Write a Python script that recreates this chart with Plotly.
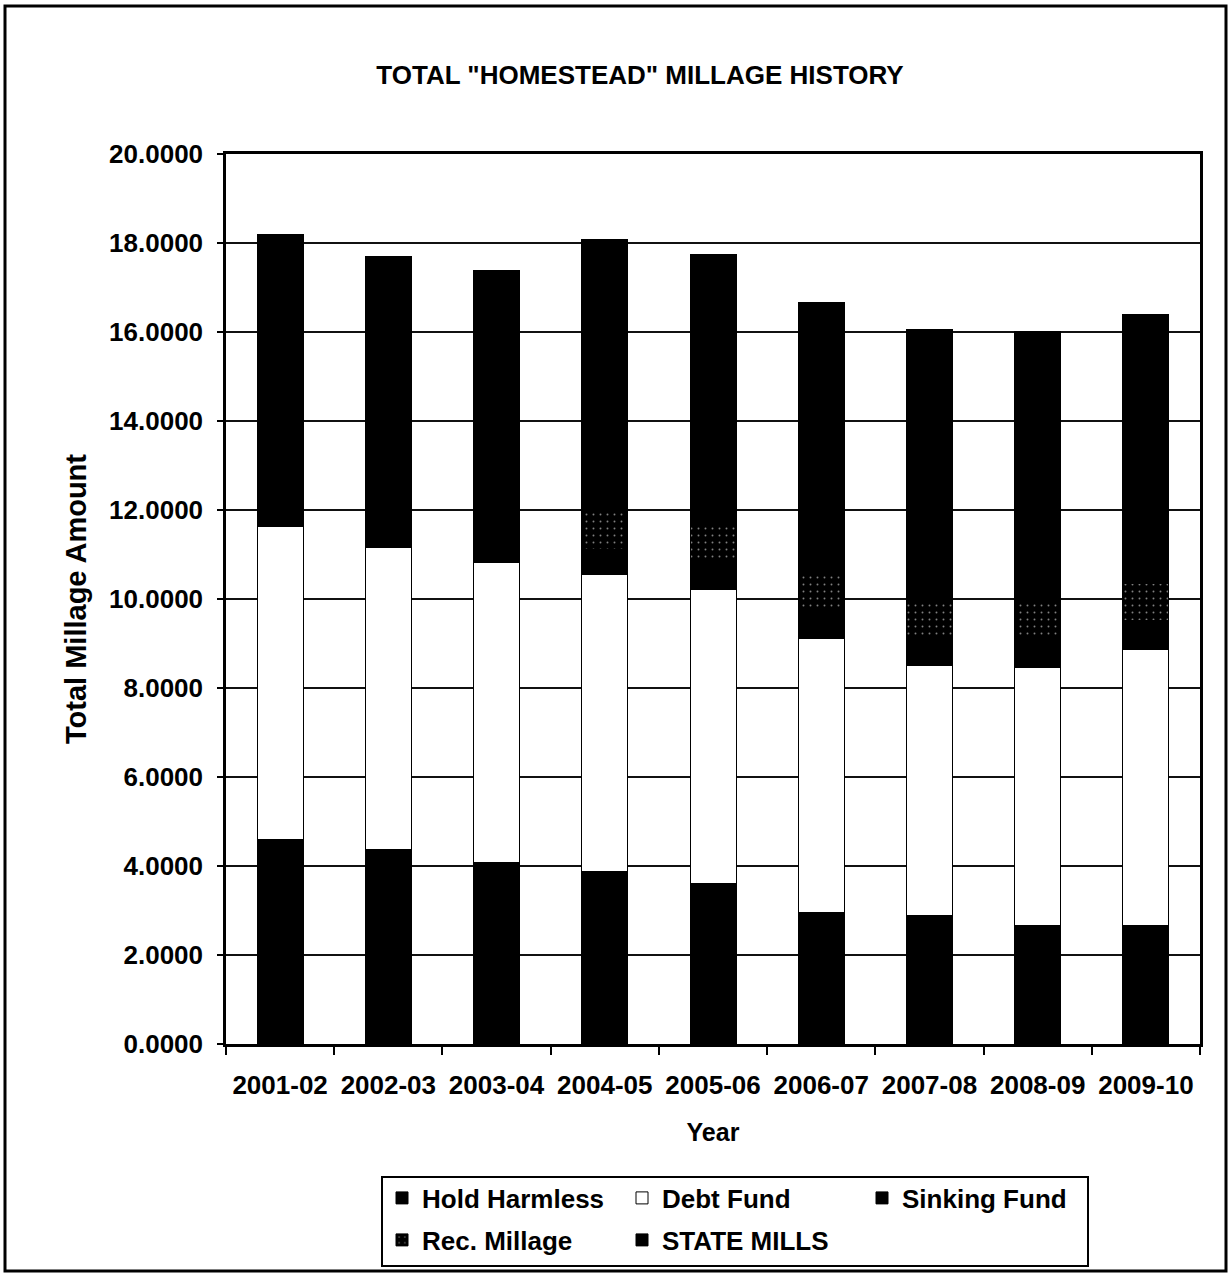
import plotly.graph_objects as go

# Fiscal years on the category axis
years = ["2001-02", "2002-03", "2003-04", "2004-05", "2005-06",
         "2006-07", "2007-08", "2008-09", "2009-10"]

# Millage components (mills), stacked bottom to top
hold_harmless = [4.60, 4.38, 4.09, 3.87, 3.60, 2.96, 2.89, 2.66, 2.66]
debt_fund     = [7.03, 6.77, 6.74, 6.67, 6.61, 6.15, 5.62, 5.80, 6.21]
sinking_fund  = [0.48, 0.48, 0.48, 0.58, 0.61, 0.62, 0.57, 0.62, 0.65]
rec_millage   = [0.00, 0.00, 0.00, 0.90, 0.86, 0.86, 0.90, 0.86, 0.82]
state_mills   = [6.07, 6.07, 6.07, 6.07, 6.07, 6.07, 6.07, 6.07, 6.05]

W, H = 1231, 1278
L, R, T, B = 226, 31, 154, 234          # plot-area margins in px
PW, PH = W - L - R, H - T - B

def px_x(p):
    return (p - L) / PW

def px_y(p):
    return (H - B - p) / PH

FONT = "Liberation Sans, Arial, sans-serif"
edge = dict(color="black", width=1)

fig = go.Figure()
fig.add_trace(go.Bar(name="Hold Harmless", x=years, y=hold_harmless,
                     marker=dict(color="black", line=edge), legend="legend"))
fig.add_trace(go.Bar(name="Debt Fund", x=years, y=debt_fund,
                     marker=dict(color="white", line=edge), legend="legend"))
fig.add_trace(go.Bar(name="Sinking Fund", x=years, y=sinking_fund,
                     marker=dict(color="black", line=edge), legend="legend"))
fig.add_trace(go.Bar(name="Rec. Millage", x=years, y=rec_millage,
                     marker=dict(color="black", line=edge,
                                 pattern=dict(shape=".", bgcolor="black",
                                              fgcolor="white", size=7,
                                              solidity=0.06)),
                     legend="legend2"))
fig.add_trace(go.Bar(name="STATE MILLS", x=years, y=state_mills,
                     marker=dict(color="black", line=edge), legend="legend2"))

legend_common = dict(
    orientation="h", xanchor="left", yanchor="middle", traceorder="normal",
    font=dict(family=FONT, size=26, color="black", weight="bold"),
    bgcolor="rgba(0,0,0,0)", borderwidth=0,
    entrywidth=195, entrywidthmode="pixels",
    itemclick=False, itemdoubleclick=False,
)

fig.update_layout(
    width=W, height=H,
    margin=dict(l=L, r=R, t=T, b=B, autoexpand=False),
    paper_bgcolor="white", plot_bgcolor="white",
    barmode="stack", bargap=0.575,
    font=dict(family=FONT, color="black"),
    title=dict(text='TOTAL "HOMESTEAD" MILLAGE HISTORY',
               font=dict(family=FONT, size=26, color="black", weight="bold"),
               x=640 / W, xanchor="center", xref="container",
               y=1 - 75 / H, yanchor="middle", yref="container"),
    legend=dict(x=px_x(382), y=px_y(1198), **legend_common),
    legend2=dict(x=px_x(382), y=px_y(1240), **legend_common),
    xaxis=dict(
        type="category", showline=True, linecolor="black", linewidth=2.5,
        mirror=True, ticks="outside", tickson="boundaries", ticklen=8,
        tickwidth=1.5, tickcolor="black", ticklabelstandoff=16,
        tickfont=dict(family=FONT, size=26, color="black", weight="bold"),
        title=dict(text="Year", standoff=25,
                   font=dict(family=FONT, size=25, color="black", weight="bold")),
        showgrid=False,
    ),
    yaxis=dict(
        range=[0, 20], dtick=2, tick0=0, tickformat=".4f",
        showline=True, linecolor="black", linewidth=2.5, mirror=True,
        ticks="outside", ticklen=6, tickwidth=1.5, tickcolor="black",
        ticklabelstandoff=9,
        tickfont=dict(family=FONT, size=26, color="black", weight="bold"),
        showgrid=True, gridcolor="#111111", gridwidth=2,
        title=dict(text="Total Millage Amount", standoff=14,
                   font=dict(family=FONT, size=29, color="black", weight="bold")),
        zeroline=False,
    ),
    shapes=[
        # outer frame around the whole page
        dict(type="rect", xref="paper", yref="paper",
             x0=px_x(5), x1=px_x(1226), y0=px_y(1271), y1=px_y(6),
             line=dict(color="black", width=3), fillcolor="rgba(0,0,0,0)",
             layer="above"),
        # box around the two legend rows
        dict(type="rect", xref="paper", yref="paper",
             x0=px_x(382), x1=px_x(1088), y0=px_y(1266), y1=px_y(1177),
             line=dict(color="black", width=2), fillcolor="rgba(0,0,0,0)",
             layer="above"),
    ],
)

fig.write_html("out.html")
